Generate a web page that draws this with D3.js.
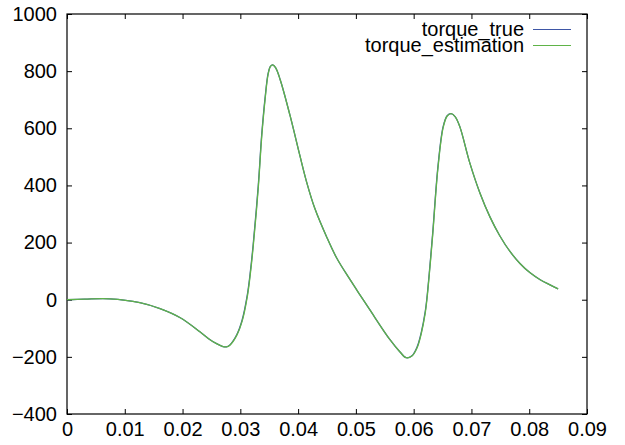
<!DOCTYPE html>
<html>
<head>
<meta charset="utf-8">
<script src="https://cdn.jsdelivr.net/npm/d3@7"></script>
<style>
  body { margin: 0; background: #fff; }
  svg { font-family: "Liberation Sans", Arial, sans-serif; }
</style>
</head>
<body>
<svg></svg>
<script>
// Svg element dimensions
const width = 625;
const height = 445;

// Data (time in s, torque)
const time = [0, 0.0031, 0.0074, 0.0126, 0.0161, 0.0196, 0.023, 0.0247, 0.0258, 0.027,
  0.0276, 0.0282, 0.0294, 0.0303, 0.0312, 0.0317, 0.0322, 0.0331, 0.0337, 0.0343,
  0.0348, 0.0352, 0.0356, 0.0361, 0.0369, 0.0386, 0.0403, 0.0415, 0.0429, 0.045,
  0.0467, 0.049, 0.0507, 0.0524, 0.0559, 0.0576, 0.0587, 0.0597, 0.0606, 0.0613,
  0.062, 0.0623, 0.0628, 0.0633, 0.0642, 0.0651, 0.0658, 0.0665, 0.0672, 0.068,
  0.0697, 0.0715, 0.0732, 0.0749, 0.0767, 0.0784, 0.0801, 0.0819, 0.0836, 0.085];
const torqueTrue = [0, 2, 3, -10, -31, -63, -112, -139, -153, -164,
  -165, -158, -122, -72, 16, 92, 188, 399, 578, 710,
  791, 817, 822, 812, 770, 645, 505, 410, 319, 217,
  145, 70, 17, -35, -140, -182, -203, -196, -165, -116,
  -42, 7, 116, 235, 466, 606, 644, 651, 640, 605,
  480, 372, 290, 224, 168, 127, 95, 70, 52, 38];
const torqueEstimation = [0, 2, 3, -10, -31, -63, -112, -139, -153, -164,
  -165, -159, -124, -76, 10, 85, 180, 390, 570, 704,
  788, 816, 822, 812, 770, 645, 505, 410, 319, 217,
  145, 70, 17, -35, -140, -182, -203, -197, -168, -120,
  -47, 2, 110, 228, 460, 602, 643, 651, 640, 605,
  480, 372, 290, 224, 168, 127, 95, 70, 52, 38];
const seriesNames = ["torque_true", "torque_estimation"];
const seriesColors = ["#3e56a6", "#5fb348"];
const xTicks = [0, 0.01, 0.02, 0.03, 0.04, 0.05, 0.06, 0.07, 0.08, 0.09];
const yTicks = [-400, -200, 0, 200, 400, 600, 800, 1000];

const svg = d3.select("svg").attr("width", width).attr("height", height);

// Plot frame
const margin = { top: 14, right: 38, bottom: 31, left: 67 };
const innerWidth = width - margin.left - margin.right;
const innerHeight = height - margin.top - margin.bottom;

const xScale = d3.scaleLinear().domain([0, 0.09]).range([0, innerWidth]);
const yScale = d3.scaleLinear().domain([-400, 1000]).range([innerHeight, 0]);

const g = svg.append("g").attr("transform", `translate(${margin.left}, ${margin.top})`);

// Axes, gnuplot style: inward ticks mirrored on all sides
const tickLen = 5;
const fontSize = "20px";
const xAxis = d3.axisBottom(xScale).tickValues(xTicks)
  .tickFormat(d => d === 0 ? "0" : d3.format(".2f")(d)).tickSize(-tickLen).tickPadding(8);
const xAxisTop = d3.axisTop(xScale).tickValues(xTicks).tickFormat("").tickSize(-tickLen);
const yAxis = d3.axisLeft(yScale).tickValues(yTicks).tickFormat(d3.format("d"))
  .tickSize(-tickLen).tickPadding(10);
const yAxisRight = d3.axisRight(yScale).tickValues(yTicks).tickFormat("").tickSize(-tickLen);

const styleAxis = (sel) => {
  sel.select(".domain").remove();
  sel.selectAll(".tick line").attr("stroke", "#000");
  sel.selectAll(".tick text").attr("fill", "#000")
    .style("font-family", '"Liberation Sans", Arial, sans-serif').style("font-size", fontSize);
};

g.append("g").attr("transform", `translate(0, ${innerHeight})`).call(xAxis).call(styleAxis);
g.append("g").call(xAxisTop).call(styleAxis);
g.append("g").call(yAxis).call(styleAxis);
g.append("g").attr("transform", `translate(${innerWidth}, 0)`).call(yAxisRight).call(styleAxis);

g.append("rect")
  .attr("x", 0).attr("y", 0)
  .attr("width", innerWidth).attr("height", innerHeight)
  .attr("fill", "none").attr("stroke", "#000").attr("stroke-width", 1.2);

// Lines
const series = [torqueTrue, torqueEstimation];
const line = d3.line()
  .x((d, i) => xScale(time[i]))
  .y(d => yScale(d))
  .curve(d3.curveCatmullRom.alpha(0.5));

g.selectAll("path.series")
  .data(series)
  .enter()
  .append("path")
  .attr("class", "series")
  .attr("fill", "none")
  .attr("stroke", (d, i) => seriesColors[i])
  .attr("stroke-width", 1.3)
  .attr("d", line);

// Legend
const legend = g.append("g").attr("transform", `translate(${innerWidth - 63}, 15.5)`);
seriesNames.forEach((name, i) => {
  const row = legend.append("g").attr("transform", `translate(0, ${i * 16})`);
  row.append("text")
    .attr("x", 0).attr("y", 6.5)
    .attr("text-anchor", "end")
    .style("font-size", fontSize)
    .text(name);
  row.append("line")
    .attr("x1", 9).attr("x2", 47)
    .attr("stroke", seriesColors[i]).attr("stroke-width", 1.2);
});
</script>
</body>
</html>
